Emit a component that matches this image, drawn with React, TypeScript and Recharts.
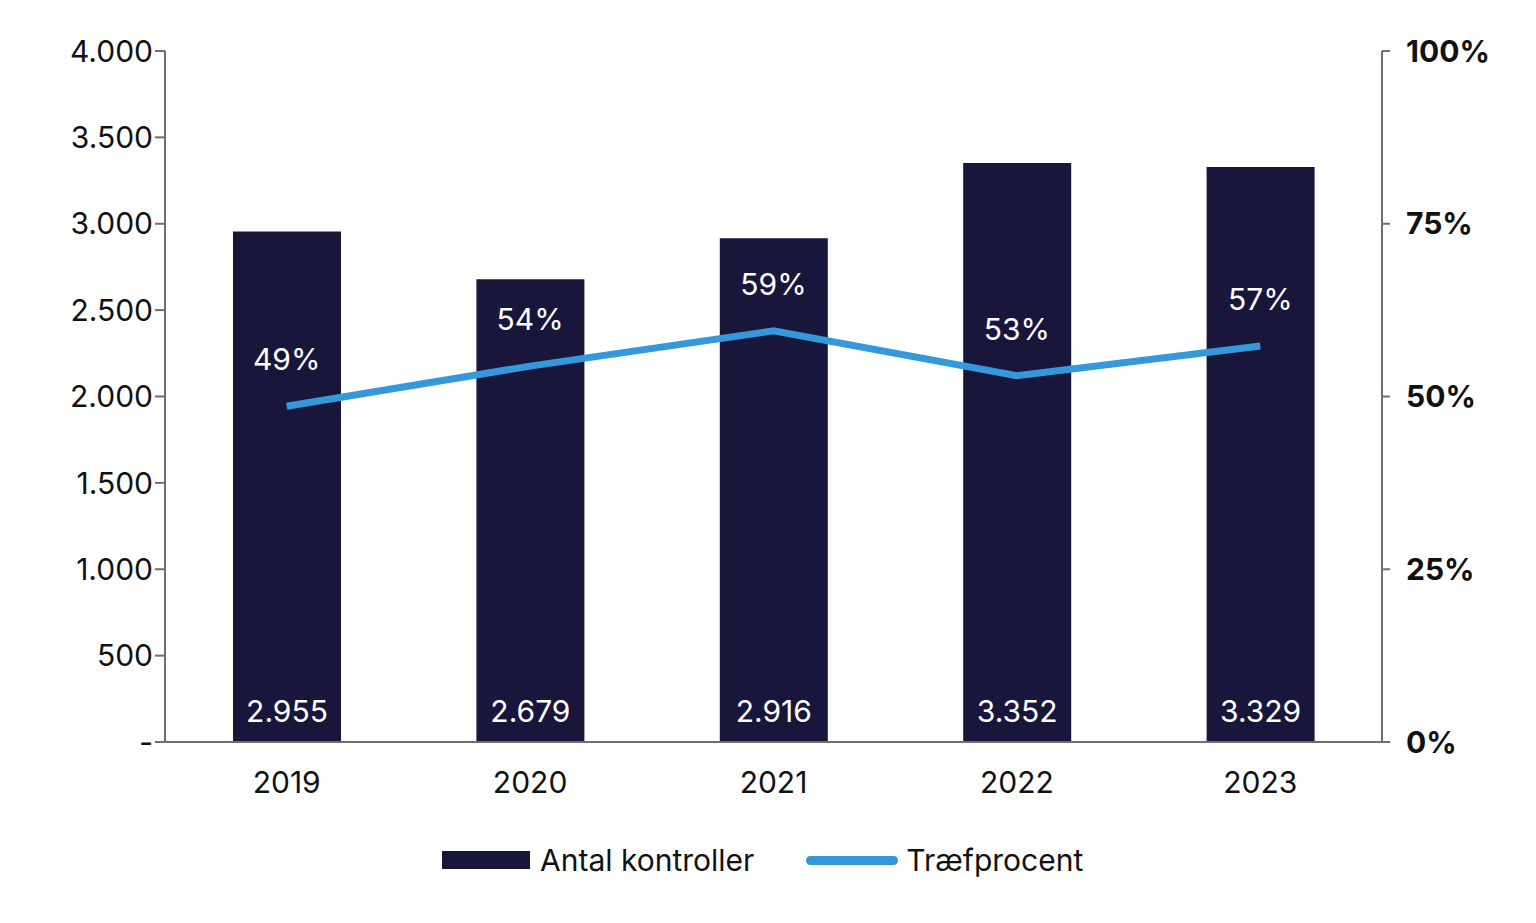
import { ComposedChart, Bar, Line, XAxis, YAxis, LabelList } from "recharts";

const years = ["2019", "2020", "2021", "2022", "2023"];
const antal = [2955, 2679, 2916, 3352, 3329];
const traef = [0.486, 0.544, 0.595, 0.53, 0.573];
const traefLabels = ["49%", "54%", "59%", "53%", "57%"];
const leftTicks = [0, 500, 1000, 1500, 2000, 2500, 3000, 3500, 4000];
const rightTicks = [0, 0.25, 0.5, 0.75, 1];

const data = years.map((y, i) => ({ year: y, antal: antal[i], traef: traef[i], lbl: traefLabels[i] }));

const FONT = "Inter, 'Noto Sans', sans-serif";
const AXIS = "#7b6a6a";
const fmt = (v: number) => (v === 0 ? "-" : v.toLocaleString("da-DK"));

export default function App() {
  return (
    <div style={{ position: "absolute", left: 0, top: 0, width: 1536, height: 923, background: "#fff", fontFamily: FONT }}>
      <ComposedChart width={1536} height={923} data={data} margin={{ top: 51, right: 16, left: 0, bottom: 121 }}>
        <XAxis dataKey="year" axisLine={{ stroke: AXIS, strokeWidth: 2 }} tickLine={false} height={60}
          tick={{ fill: "#111", fontSize: 30, fontFamily: FONT }} dy={22} />
        <YAxis yAxisId="l" domain={[0, 4000]} ticks={leftTicks} width={165} tickFormatter={fmt}
          axisLine={{ stroke: AXIS, strokeWidth: 2 }} tickLine={{ stroke: AXIS, strokeWidth: 2 }} tickSize={10}
          tick={{ fill: "#111", fontSize: 30, fontFamily: FONT }} />
        <YAxis yAxisId="r" orientation="right" domain={[0, 1]} ticks={rightTicks} width={138}
          tickFormatter={(v: number) => `${Math.round(v * 100)}%`}
          axisLine={{ stroke: AXIS, strokeWidth: 2 }} tickLine={{ stroke: AXIS, strokeWidth: 2 }} tickSize={8}
          tick={{ fill: "#111", fontSize: 30, fontWeight: 700, fontFamily: FONT }} dx={14} />
        <Bar yAxisId="l" dataKey="antal" fill="#19163c" barSize={108} isAnimationActive={false}>
          <LabelList dataKey="antal" position="insideBottom" offset={20} formatter={(v: number) => v.toLocaleString("da-DK")}
            style={{ fill: "#fff", fontSize: 30, fontFamily: FONT }} />
        </Bar>
        <Line yAxisId="r" dataKey="traef" stroke="#3399db" strokeWidth={7} dot={false} isAnimationActive={false}>
          <LabelList dataKey="lbl" position="top" offset={36} style={{ fill: "#fff", fontSize: 30, fontFamily: FONT }} />
        </Line>
      </ComposedChart>
      <div style={{ position: "absolute", top: 842, left: 442, display: "flex", alignItems: "center", fontSize: 30, color: "#111" }}>
        <span style={{ width: 88, height: 18, background: "#19163c", display: "inline-block", marginRight: 10 }} />
        <span>Antal kontroller</span>
        <span style={{ width: 92, height: 9, borderRadius: 5, background: "#3399db", display: "inline-block", margin: "0 8px 0 52px" }} />
        <span>Træfprocent</span>
      </div>
    </div>
  );
}
